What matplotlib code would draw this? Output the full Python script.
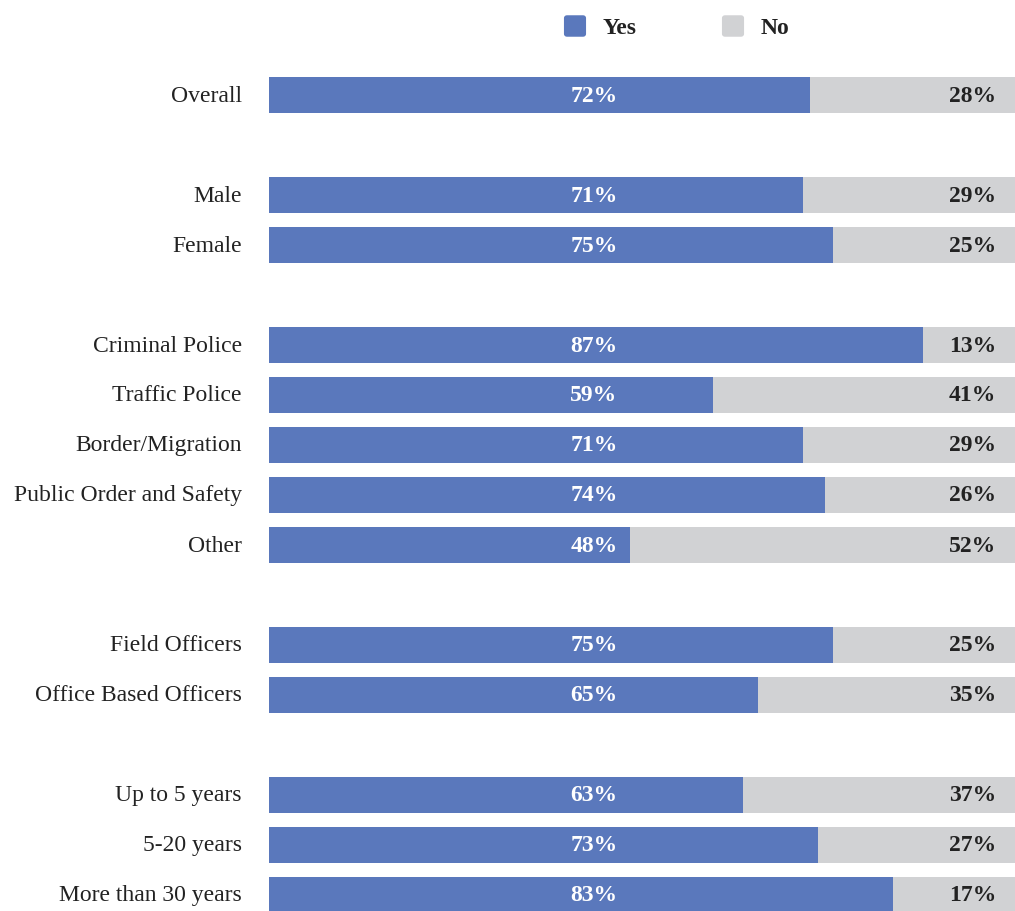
import matplotlib.pyplot as plt
from matplotlib.patches import FancyBboxPatch

categories = ['Overall', 'Male', 'Female', 'Criminal Police', 'Traffic Police',
              'Border/Migration', 'Public Order and Safety', 'Other',
              'Field Officers', 'Office Based Officers', 'Up to 5 years',
              '5-20 years', 'More than 30 years']
# row slots, with empty slots between groups
slots = [0, 2, 3, 5, 6, 7, 8, 9, 11, 12, 14, 15, 16]
yes = [72, 71, 75, 87, 59, 71, 74, 48, 75, 65, 63, 73, 83]
no = [28, 29, 25, 13, 41, 29, 26, 52, 25, 35, 37, 27, 17]

BLUE = '#5a78bc'
GRAY = '#d1d2d4'
plt.rcParams['font.family'] = ['Liberation Serif', 'DejaVu Serif']

W, H = 1015, 912
fig = plt.figure(figsize=(W / 100, H / 100), dpi=100)
ax = fig.add_axes([269 / W, 0, 752 / W, 841 / H])
ax.barh(slots, yes, height=0.72, color=BLUE)
ax.barh(slots, no, left=yes, height=0.72, color=GRAY)
ax.set_xlim(0, 100)
ax.set_ylim(16.32, -0.5)
ax.axis('off')

for s, c, y, n in zip(slots, categories, yes, no):
    ax.text(-3.6, s, c, ha='right', va='center', fontsize=17, color='#222222')
    ax.text(43.2, s, f'{y}%', ha='center', va='center', fontsize=17,
            fontweight='bold', color='white')
    ax.text(96.7, s, f'{n}%', ha='right', va='center', fontsize=17,
            fontweight='bold', color='#222222')

# legend
for x0, col, lab in [(564, BLUE, 'Yes'), (722, GRAY, 'No')]:
    fig.patches.append(FancyBboxPatch(((x0 + 3) / W, 1 - 35 / H), 16 / W, 16 / H,
                                      boxstyle='round,pad=0.003', transform=fig.transFigure,
                                      facecolor=col, edgecolor='none'))
    fig.text((x0 + 39) / W, 1 - 28 / H, lab, ha='left', va='center', fontsize=17,
             fontweight='bold', color='#222222')

fig.savefig('out.png', dpi=100)
